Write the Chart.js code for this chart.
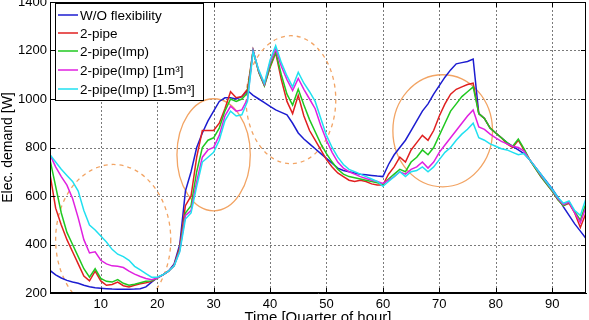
<!DOCTYPE html>
<html>
<head>
<meta charset="utf-8">
<script src="https://cdn.jsdelivr.net/npm/chart.js@4.4.0/dist/chart.umd.min.js"></script>
<style>
  html, body { margin: 0; padding: 0; background: #fff; }
  #wrap { width: 589px; height: 320px; }
</style>
</head>
<body>
<div id="wrap"><canvas id="demandChart" width="589" height="320"></canvas></div>
<script>
Chart.defaults.font.family = "'Liberation Sans', Arial, sans-serif";
Chart.defaults.font.size = 13;
Chart.defaults.color = "#000";

// quarter-hour index 1..96
const quarters = [];
for (let q = 1; q <= 96; q++) quarters.push(q);

const xTicks = [10, 20, 30, 40, 50, 60, 70, 80, 90];
const yTicks = [200, 400, 600, 800, 1000, 1200, 1400];

const seriesNames = [
  "W/O flexibility",
  "2-pipe",
  "2-pipe(Imp)",
  "2-pipe(Imp) [1m³]",
  "2-pipe(Imp) [1.5m³]",
];

const withoutFlex = [
  293, 275, 262, 252, 245, 240, 232, 226, 222, 220,
  218, 216, 215, 215, 215, 216, 218, 225, 245, 262,
  275, 290, 320, 400, 620, 700, 800, 860, 910, 950,
  990, 1005, 1005, 1000, 1010, 1035, 1015, 1000, 985, 970,
  955, 945, 935, 900, 860, 835, 815, 795, 775, 755,
  735, 715, 705, 700, 695, 690, 688, 685, 682, 680,
  730, 770, 800, 830, 870, 910, 950, 980, 1020, 1055,
  1090, 1120, 1145, 1150, 1155, 1165, 940, 920, 880, 860,
  840, 820, 805, 790, 775, 750, 720, 690, 660, 630,
  595, 555, 520, 485, 455, 425,
];

const twoPipe = [
  690, 550, 480, 420, 370, 320, 270, 250, 290, 250,
  232, 235, 245, 230, 225, 232, 238, 242, 248, 262,
  275, 290, 315, 390, 560, 600, 760, 870, 870, 870,
  900, 960, 1030, 1005, 1010, 1040, 1200, 1110, 1055, 1130,
  1190, 1080, 990, 940, 1015, 930, 870, 830, 790, 750,
  720, 695, 680, 665, 660, 665, 660, 650, 645, 645,
  690, 720, 760, 740, 790, 820, 850, 830, 870, 930,
  980, 1020, 1040, 1050, 1060, 1065, 940, 920, 880, 860,
  840, 815, 800, 830, 790, 750, 715, 680, 650, 620,
  585, 560, 570, 530, 470, 530,
];

const twoPipeImp = [
  750, 640, 530, 450, 400, 350, 300, 265, 300, 260,
  248, 245, 255, 240, 232, 236, 242, 248, 250, 262,
  275, 290, 312, 380, 530, 560, 700, 800, 830, 840,
  880, 950, 1000, 990, 1000, 1025, 1200, 1110, 1055, 1135,
  1195, 1100, 1020, 975, 1040, 975, 915, 865, 815, 775,
  740, 710, 690, 680, 675, 670, 665, 660, 655, 648,
  670, 690, 710, 700, 740, 760, 790, 770, 800, 850,
  900, 950, 980, 1010, 1030, 1050, 940, 920, 880, 860,
  840, 820, 805, 835, 795, 750, 715, 680, 650, 620,
  585, 560, 575, 535, 500, 570,
];

const twoPipeImp1 = [
  770, 720, 680, 645, 590, 510, 420, 365, 370, 335,
  320, 312, 310, 305, 290, 278, 268, 260, 255, 262,
  275, 290, 312, 375, 520, 540, 660, 760, 790, 800,
  850, 930, 970, 950, 955, 1000, 1200, 1115, 1060, 1150,
  1205, 1135, 1080, 1035, 1085, 1040, 1000, 960, 890, 830,
  780, 740, 715, 700, 690, 680, 672, 665, 660, 652,
  665, 680, 700, 690, 710, 720, 740, 715, 740, 780,
  810, 840, 870, 900, 930, 955, 885, 875, 855, 840,
  825, 815, 805, 800, 785, 750, 720, 685, 655, 625,
  590, 565, 575, 530, 490, 555,
];

const twoPipeImp15 = [
  770, 740, 710, 685, 660, 620, 540, 480, 460, 435,
  410, 380, 360, 350, 335, 310, 295, 280, 265, 265,
  275, 290, 312, 370, 505, 530, 640, 740, 760, 780,
  830, 910, 950, 930, 935, 990, 1195, 1120, 1065, 1160,
  1220, 1150, 1095, 1050, 1110, 1065, 1030, 990, 920, 850,
  800, 760, 730, 710, 700, 690, 680, 670, 660, 640,
  660, 680, 700, 680, 700, 705, 720, 700, 720, 750,
  780, 800, 830, 855, 875, 900, 840, 830, 815, 805,
  795, 790, 780, 770, 775, 750, 720, 690, 658, 628,
  595, 570, 580, 540, 520, 590,
];

const lineColors = ["#1c1cd0", "#e02020", "#20c820", "#e020e0", "#20e0f0"];

// highlighted regions: centre (quarter, W), half-width (quarters), half-height (W), dashed?
const circleCentersX = [12.2, 30, 43.7, 70.6];
const circleCentersY = [420, 770, 997, 869];
const circleRadiiX = [10.2, 6.5, 7.95, 8.83];
const circleRadiiY = [310, 231, 264, 231];
const circleDashed = [true, false, true, false];

const seriesData = [withoutFlex, twoPipe, twoPipeImp, twoPipeImp1, twoPipeImp15];

const FONT = "'Liberation Sans', Arial, sans-serif";

const backgroundPlugin = {
  id: "gridAndCircles",
  beforeDatasetsDraw(chart) {
    const { ctx, chartArea, scales } = chart;
    const { left, right, top, bottom } = chartArea;
    ctx.save();
    ctx.beginPath();
    ctx.rect(left, top, right - left, bottom - top);
    ctx.clip();

    // dotted grid
    ctx.fillStyle = "#7a7a7a";
    xTicks.forEach((v) => {
      const x = Math.round(scales.x.getPixelForValue(v));
      for (let y = top; y < bottom; y += 4) ctx.fillRect(x, y, 1, 2);
    });
    yTicks.forEach((v) => {
      const y = Math.round(scales.y.getPixelForValue(v));
      for (let x = left; x < right; x += 4) ctx.fillRect(x, y, 2, 1);
    });

    // highlight ellipses
    ctx.strokeStyle = "#f2a464";
    ctx.lineWidth = 1.3;
    circleCentersX.forEach((cx, i) => {
      const px = scales.x.getPixelForValue(cx);
      const py = scales.y.getPixelForValue(circleCentersY[i]);
      const rx = Math.abs(scales.x.getPixelForValue(cx + circleRadiiX[i]) - px);
      const ry = Math.abs(scales.y.getPixelForValue(circleCentersY[i] + circleRadiiY[i]) - py);
      ctx.setLineDash(circleDashed[i] ? [4, 4] : []);
      ctx.beginPath();
      ctx.ellipse(px, py, rx, ry, 0, 0, Math.PI * 2);
      ctx.stroke();
    });
    ctx.restore();
  },
};

const frameAndLegendPlugin = {
  id: "frameAndLegend",
  afterDraw(chart) {
    const { ctx, chartArea, scales } = chart;
    const { left, right, top, bottom } = chartArea;
    ctx.save();
    // frame
    ctx.strokeStyle = "#000";
    ctx.lineWidth = 1;
    ctx.strokeRect(left + 0.5, top + 0.5, right - left - 1, bottom - top - 1);
    // inward ticks
    ctx.beginPath();
    xTicks.forEach((v) => {
      const x = Math.round(scales.x.getPixelForValue(v)) + 0.5;
      ctx.moveTo(x, bottom); ctx.lineTo(x, bottom - 5);
      ctx.moveTo(x, top); ctx.lineTo(x, top + 5);
    });
    yTicks.forEach((v) => {
      const y = Math.round(scales.y.getPixelForValue(v)) + 0.5;
      ctx.moveTo(left, y); ctx.lineTo(left + 5, y);
      ctx.moveTo(right, y); ctx.lineTo(right - 5, y);
    });
    ctx.stroke();

    // x axis title
    ctx.fillStyle = "#000";
    ctx.font = "15px " + FONT;
    ctx.textAlign = "center";
    ctx.textBaseline = "middle";
    ctx.fillText("Time [Quarter of hour]", (left + right) / 2, 318);

    // legend box
    const bx = 55, by = 3, bw = 148, bh = 97;
    ctx.fillStyle = "#fff";
    ctx.fillRect(bx, by, bw, bh);
    ctx.strokeRect(bx + 0.5, by + 0.5, bw, bh);
    const rows = [15, 33, 51, 70, 89];
    ctx.font = "13.5px " + FONT;
    ctx.textBaseline = "middle";
    ctx.textAlign = "left";
    seriesNames.forEach((name, i) => {
      ctx.strokeStyle = lineColors[i];
      ctx.lineWidth = 1.5;
      ctx.beginPath();
      ctx.moveTo(58, rows[i]);
      ctx.lineTo(78, rows[i]);
      ctx.stroke();
      ctx.fillStyle = "#000";
      ctx.fillText(name, 80, rows[i] + 1);
    });
    ctx.restore();
  },
};

new Chart(document.getElementById("demandChart").getContext("2d"), {
  type: "line",
  data: {
    labels: quarters,
    datasets: seriesData.map((values, i) => ({
      label: seriesNames[i],
      data: values.map((v, k) => ({ x: quarters[k], y: v })),
      borderColor: lineColors[i],
      borderWidth: 1.5,
      pointRadius: 0,
      tension: 0,
      fill: false,
      order: seriesData.length - i,
    })),
  },
  options: {
    responsive: false,
    animation: false,
    layout: { padding: { top: 2, right: 3, left: 0, bottom: 0 } },
    plugins: {
      legend: { display: false },
      tooltip: { enabled: false },
    },
    scales: {
      x: {
        type: "linear",
        min: 1,
        max: 96,
        afterBuildTicks: (scale) => {
          scale.ticks = xTicks.map((v) => ({ value: v }));
        },
        afterFit: (scale) => {
          scale.height = 27;
          scale.paddingLeft = 0;
          scale.paddingRight = 0;
        },
        ticks: { padding: 4, maxRotation: 0, font: { size: 13 }, callback: (v) => String(v) },
        grid: { display: false, drawTicks: false },
        border: { color: "#000" },
        title: { display: false },
      },
      y: {
        min: 200,
        max: 1400,
        afterBuildTicks: (scale) => {
          scale.ticks = yTicks.map((v) => ({ value: v }));
        },
        afterFit: (scale) => {
          scale.width = 50;
          scale.paddingTop = 0;
          scale.paddingBottom = 0;
        },
        ticks: { padding: 3, font: { size: 13 }, callback: (v) => String(v) },
        grid: { display: false, drawTicks: false },
        border: { color: "#000" },
        title: {
          display: true,
          text: "Elec. demand [W]",
          font: { size: 14 },
          padding: { top: 0, bottom: 0 },
        },
      },
    },
  },
  plugins: [backgroundPlugin, frameAndLegendPlugin],
});
</script>
</body>
</html>
